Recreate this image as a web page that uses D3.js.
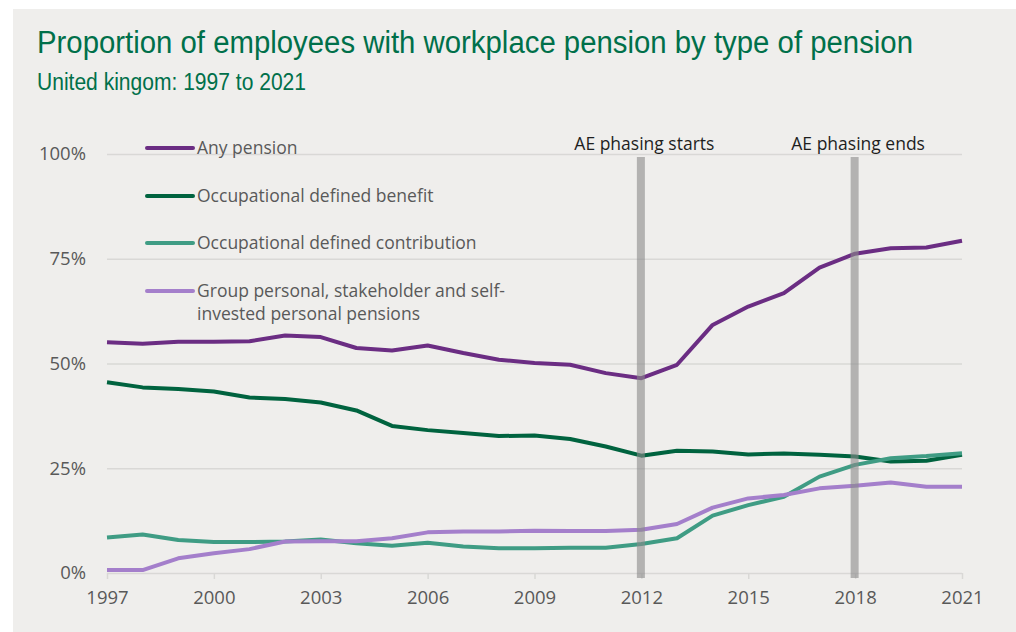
<!DOCTYPE html>
<html>
<head>
<meta charset="utf-8">
<script src="https://cdn.jsdelivr.net/npm/d3@7"></script>
<style>
  body { margin: 0; background: #fff; }
  svg { display: block; }
  .tick text { font-family: "Open Sans", sans-serif; }
</style>
</head>
<body>
<svg id="chart"></svg>
<script>
const width = 1016;
const height = 632;

// values (percent of employees)
const years = [1997,1998,1999,2000,2001,2002,2003,2004,2005,2006,2007,2008,2009,
  2010,2011,2012,2013,2014,2015,2016,2017,2018,2019,2020,2021];
const anyPension = [55.1,54.7,55.2,55.2,55.3,56.7,56.3,53.7,53.1,54.3,52.5,50.9,50.1,
  49.7,47.7,46.5,49.7,59.2,63.6,66.8,72.9,76.2,77.5,77.7,79.3];
const occDB = [45.5,44.3,43.9,43.3,41.9,41.5,40.7,38.8,35.1,34.1,33.4,32.7,32.8,
  32.0,30.2,28.0,29.2,29.0,28.3,28.5,28.2,27.8,26.6,26.8,28.2];
const occDC = [8.5,9.2,7.9,7.4,7.4,7.5,8.0,7.1,6.5,7.2,6.3,5.9,5.9,
  6.0,6.0,6.9,8.3,13.7,16.2,18.2,23.0,25.8,27.4,27.9,28.6];
const groupPersonal = [0.7,0.7,3.5,4.7,5.7,7.5,7.6,7.6,8.3,9.7,9.9,9.9,10.1,
  10.0,10.0,10.3,11.7,15.6,17.8,18.6,20.2,20.8,21.6,20.6,20.6];

const seriesNames = ["Any pension","Occupational defined benefit","Occupational defined contribution",
  "Group personal, stakeholder and self-|invested personal pensions"];
const seriesColors = ["#6b2d83","#00633f","#3f9c84","#a47fcb"];
const yTicks = [0,25,50,75,100];
const xTicks = [1997,2000,2003,2006,2009,2012,2015,2018,2021];
const phaseYears = [2012,2018];
const phaseLabels = ["AE phasing starts","AE phasing ends"];

const series = [anyPension, occDB, occDC, groupPersonal];

var xScale = d3.scaleLinear().domain([1997,2021]).range([107,962]);
var yScale = d3.scaleLinear().domain([0,100]).range([573,154]);

var svg = d3.select("#chart").attr("width",width).attr("height",height);

// grey panel
svg.append("rect")
  .attr("x",13).attr("y",9)
  .attr("width",width-13).attr("height",height-9)
  .attr("fill","#efeeec");

// title (no narrow font available, so squeeze a regular one)
svg.append("text")
  .attr("x",37).attr("y",53)
  .attr("font-family","'Liberation Sans Narrow','Arial Narrow','Liberation Sans',sans-serif")
  .attr("font-size",31)
  .attr("fill","#00704a")
  .attr("textLength",876).attr("lengthAdjust","spacingAndGlyphs")
  .text("Proportion of employees with workplace pension by type of pension");

svg.append("text")
  .attr("x",37).attr("y",90)
  .attr("font-family","'Liberation Sans Narrow','Arial Narrow','Liberation Sans',sans-serif")
  .attr("font-size",23)
  .attr("fill","#00704a")
  .attr("textLength",269).attr("lengthAdjust","spacingAndGlyphs")
  .text("United kingom: 1997 to 2021");

// y grid + labels
var yAxis = d3.axisLeft(yScale)
  .tickValues(yTicks)
  .tickSize(-(xScale.range()[1]-xScale.range()[0]))
  .tickPadding(21)
  .tickFormat(d => d + "%");

svg.append("g")
  .attr("transform",`translate(${xScale.range()[0]},0)`)
  .call(yAxis)
  .call(g => g.select(".domain").remove())
  .call(g => g.selectAll(".tick line").attr("stroke","#d9d8d6").attr("stroke-width",1.5))
  .call(g => g.selectAll(".tick text").attr("font-size",18.5).attr("fill","#595959"));

// x axis ticks + labels
var xAxis = d3.axisBottom(xScale)
  .tickValues(xTicks)
  .tickSize(6)
  .tickPadding(12)
  .tickFormat(d3.format("d"));

svg.append("g")
  .attr("transform",`translate(0,${yScale(0)})`)
  .call(xAxis)
  .call(g => g.select(".domain").remove())
  .call(g => g.selectAll(".tick line").attr("stroke","#d9d8d6").attr("stroke-width",1.5))
  .call(g => g.selectAll(".tick text").attr("font-size",18.5).attr("fill","#595959"));

// lines
var lineGenerator = d3.line()
  .x((d,i) => xScale(years[i]))
  .y(d => yScale(d));

svg.selectAll("path.series")
  .data(series)
  .enter()
  .append("path")
  .attr("class","series")
  .attr("fill","none")
  .attr("stroke",(d,i) => seriesColors[i])
  .attr("stroke-width",4)
  .attr("stroke-linejoin","round")
  .attr("d",d => lineGenerator(d));

// AE phasing bars
svg.selectAll("rect.phase")
  .data(phaseYears)
  .enter()
  .append("rect")
  .attr("class","phase")
  .attr("x",d => xScale(d)-4.5)
  .attr("y",157)
  .attr("width",8)
  .attr("height",yScale(0)+5-157)
  .attr("fill","#8a8a8a")
  .attr("opacity",0.6);

svg.selectAll("text.phase")
  .data(phaseYears)
  .enter()
  .append("text")
  .attr("class","phase")
  .attr("x",d => xScale(d)+3)
  .attr("y",150)
  .attr("text-anchor","middle")
  .attr("font-family","'Open Sans',sans-serif")
  .attr("font-size",17.5)
  .attr("fill","#1e1e1e")
  .text((d,i) => phaseLabels[i]);

// legend
var legend = svg.append("g");
const legendY = [148,196,243,291];
seriesNames.forEach((name,i) => {
  legend.append("line")
    .attr("x1",147).attr("x2",193)
    .attr("y1",legendY[i]).attr("y2",legendY[i])
    .attr("stroke",seriesColors[i])
    .attr("stroke-width",4)
    .attr("stroke-linecap","round");
  name.split("|").forEach((part,j) => {
    legend.append("text")
      .attr("x",197)
      .attr("y",legendY[i] + j*23)
      .attr("dy","0.35em")
      .attr("font-family","'Open Sans',sans-serif")
      .attr("font-size",17.5)
      .attr("fill","#595959")
      .text(part);
  });
});
</script>
</body>
</html>
